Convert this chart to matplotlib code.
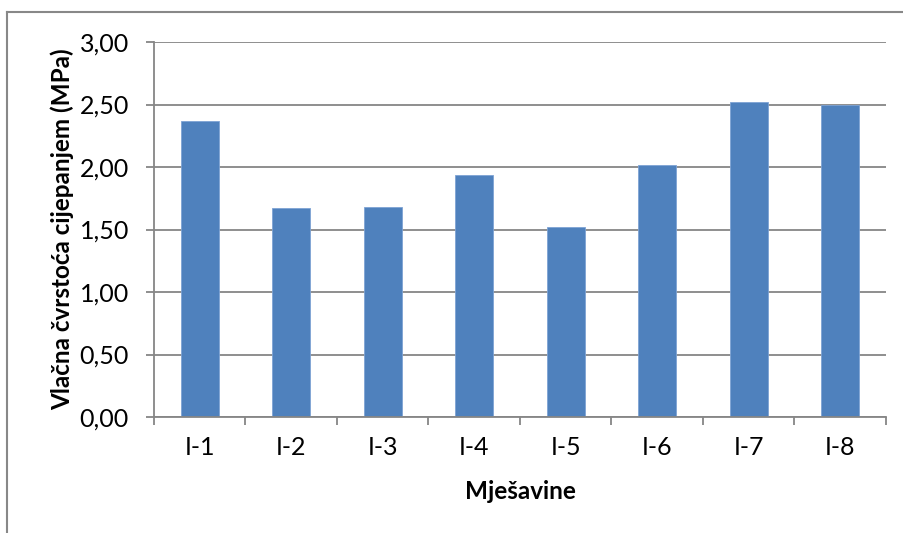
import matplotlib.pyplot as plt
from matplotlib.lines import Line2D
from matplotlib.ticker import FixedLocator, FuncFormatter
import numpy as np

mixes = ["I-1", "I-2", "I-3", "I-4", "I-5", "I-6", "I-7", "I-8"]
strength = [2.37, 1.67, 1.68, 1.94, 1.52, 2.02, 2.52, 2.50]
y_ticks = [0.0, 0.5, 1.0, 1.5, 2.0, 2.5, 3.0]

plt.rcParams["font.family"] = ["Lato", "DejaVu Sans"]

W, H = 904, 533
fig = plt.figure(figsize=(W / 100, H / 100), dpi=100)
ax = fig.add_axes([154 / W, 1 - 417 / H, (886 - 154) / W, (417 - 42) / H])

grey = "#868686"
x = np.arange(len(mixes))
ax.bar(x, strength, width=0.41, color="#4F81BD", edgecolor="#7EA3D4", linewidth=0.6, zorder=3)

ax.set_xlim(-0.5, len(mixes) - 0.5)
ax.set_ylim(0, 3)
ax.yaxis.set_major_locator(FixedLocator(y_ticks))
ax.yaxis.set_major_formatter(FuncFormatter(lambda v, p: f"{v:.2f}".replace(".", ",")))
ax.grid(axis="y", color=grey, linewidth=1.3, zorder=0)

ax.set_xticks(x)
ax.set_xticklabels(mixes)
ax.set_xticks(np.arange(-0.5, len(mixes)), minor=True)
ax.tick_params(axis="x", which="major", length=0, pad=14, labelsize=18)
ax.tick_params(axis="x", which="minor", length=6, width=1.3, color=grey, direction="out")
ax.tick_params(axis="y", length=6, width=1.3, color=grey, pad=12, labelsize=18)

for s in ["top", "right"]:
    ax.spines[s].set_visible(False)
for s in ["left", "bottom"]:
    ax.spines[s].set_color(grey)
    ax.spines[s].set_linewidth(1.3)
    ax.spines[s].set_zorder(4)

ax.set_ylabel("Vlačna čvrstoća cijepanjem (MPa)", fontsize=17.5, fontweight="bold")
ax.set_xlabel("Mješavine", fontsize=17.5, fontweight="bold", labelpad=15)
ax.yaxis.set_label_coords(-80 / (886 - 154), 0.5)

# chart border (only top and left visible in the cropped screenshot)
fig.add_artist(Line2D([7 / W, 7 / W], [0, 1 - 12 / H], color="#888888", lw=1.5))
fig.add_artist(Line2D([7 / W, 1], [1 - 12 / H, 1 - 12 / H], color="#888888", lw=1.5))

fig.savefig("out.png", dpi=100)
